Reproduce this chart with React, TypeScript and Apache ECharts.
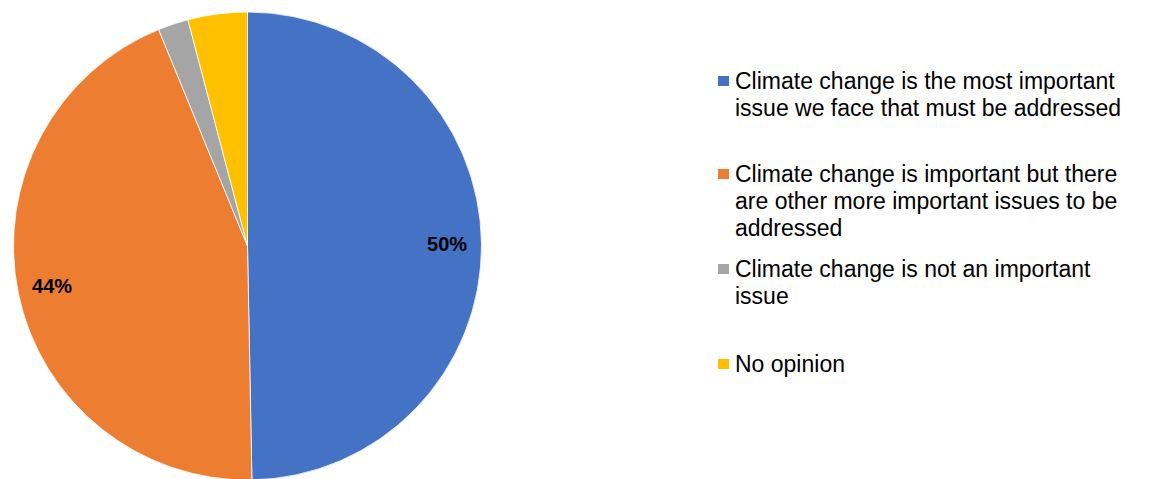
import React, { useEffect, useRef } from "react";
import * as echarts from "echarts";

const NAMES = [
  "Climate change is the most important issue we face that must be addressed",
  "Climate change is important but there are other more important issues to be addressed",
  "Climate change is not an important issue",
  "No opinion",
];
const LEGEND_LABELS = [
  "Climate change is the most important\nissue we face that must be addressed",
  "Climate change is important but there\nare other more important issues to be\naddressed",
  "Climate change is not an important\nissue",
  "No opinion",
];
const VALUES = [49.7, 44.1, 2.1, 4.1];
const COLORS = ["#4472C4", "#ED7D31", "#A5A5A5", "#FFC000"];
const SHOW_LABEL = [true, true, false, false];

const LINE_H = 27;
const ICON_CENTERS = [81.5, 174.5, 269.5, 364.5];

export default function App() {
  const ref = useRef<HTMLDivElement>(null);
  useEffect(() => {
    if (!ref.current) return;
    const chart = echarts.init(ref.current, undefined, { renderer: "svg" });
    const cx = 247.5;
    const cy = 246;
    const r = 234;

    const legends = LEGEND_LABELS.map((lab, i) => {
      const L = lab.split("\n").length;
      // prepend blank lines so the first real line sits level with the icon
      const padded = "\n".repeat(L - 1) + lab;
      const h = LINE_H * (2 * L - 1);
      return {
        orient: "vertical",
        left: 716,
        top: ICON_CENTERS[i] - h / 2 - 0.5,
        padding: 0,
        icon: "rect",
        itemWidth: 13,
        itemHeight: 12,
        selectedMode: false,
        data: [NAMES[i]],
        formatter: () => padded,
        textStyle: {
          fontFamily: "Liberation Sans, Arial, sans-serif",
          fontSize: 23,
          lineHeight: LINE_H,
          color: "#000",
        },
      };
    });

    chart.setOption({
      animation: false,
      legend: legends,
      series: [
        {
          type: "pie",
          center: [cx, cy],
          radius: [0, r],
          startAngle: 90,
          clockwise: true,
          silent: true,
          label: { show: false },
          labelLine: { show: false },
          itemStyle: { borderColor: "#ffffff", borderWidth: 0.8 },
          data: NAMES.map((n, i) => ({
            name: n,
            value: VALUES[i],
            itemStyle: { color: COLORS[i] },
          })),
        },
        {
          type: "pie",
          center: [cx, cy],
          radius: [r * 0.68, r],
          startAngle: 90,
          clockwise: true,
          silent: true,
          itemStyle: { color: "transparent", borderWidth: 0 },
          labelLine: { show: false },
          emphasis: { disabled: true },
          data: NAMES.map((n, i) => ({
            name: n,
            value: VALUES[i],
            label: {
              show: SHOW_LABEL[i],
              position: "inside",
              formatter: (p: any) => Math.round(p.value) + "%",
              fontFamily: "Liberation Sans, Arial, sans-serif",
              fontWeight: "bold",
              fontSize: 20,
              color: "#000",
            },
          })),
        },
      ],
    } as any);
    return () => chart.dispose();
  }, []);
  return (
    <div
      ref={ref}
      style={{ position: "fixed", left: 0, top: 0, width: 1154, height: 479, background: "#fff" }}
    />
  );
}
